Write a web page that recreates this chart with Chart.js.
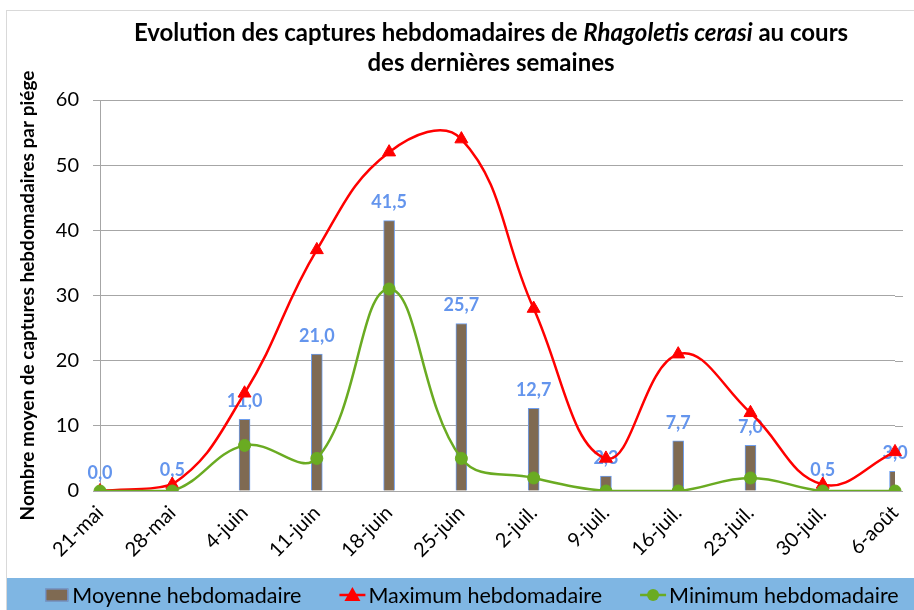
<!DOCTYPE html>
<html>
<head>
<meta charset="utf-8">
<script src="https://cdn.jsdelivr.net/npm/chart.js@4"></script>
<style>
  html, body { margin: 0; padding: 0; background: #ffffff; overflow: hidden; }
  #wrap { position: relative; width: 914px; height: 610px; }
</style>
</head>
<body>
<div id="wrap"><canvas id="c" width="914" height="610"></canvas></div>
<script>
const categories = ["21-mai", "28-mai", "4-juin", "11-juin", "18-juin", "25-juin", "2-juil.", "9-juil.", "16-juil.", "23-juil.", "30-juil.", "6-août"];
const moyenne = [0.0, 0.5, 11.0, 21.0, 41.5, 25.7, 12.7, 2.3, 7.7, 7.0, 0.5, 3.0];
const maximum = [0, 1, 15, 37, 52, 54, 28, 5, 21, 12, 1, 6];
const minimum = [0, 0, 7, 5, 31, 5, 2, 0, 0, 2, 0, 0];
const seriesNames = ["Moyenne hebdomadaire", "Maximum hebdomadaire", "Minimum hebdomadaire"];
const titleLine1 = ["Evolution des captures hebdomadaires de ", "Rhagoletis cerasi", " au cours"];
const titleLine2 = "des dernières semaines";
const yAxisTitle = "Nombre moyen de captures hebdomadaires par piége";

const FONT = "Lato, 'Open Sans', sans-serif";
const BAR_FILL = "#7F6A52";
const BAR_BORDER = "#6E9EEE";
const LABEL_BLUE = "#6495ED";
const RED = "#FF0000";
const GREEN = "#6AAB22";
const BAND = "#7FB6E3";

const framePlugin = {
  id: "frame",
  beforeDraw(chart) {
    const ctx = chart.ctx;
    ctx.save();
    ctx.fillStyle = "#ffffff";
    ctx.fillRect(0, 0, chart.width, chart.height);
    ctx.strokeStyle = "#D9D9D9";
    ctx.lineWidth = 1;
    ctx.strokeRect(6.5, 10.5, chart.width + 10, chart.height + 10);
    ctx.fillStyle = BAND;
    ctx.fillRect(7, 578, chart.width - 7, chart.height - 578);
    ctx.restore();
  },
  beforeDatasetsDraw(chart) {
    // extend the horizontal gridlines a little past the last category, as in the original
    const ctx = chart.ctx;
    const y = chart.scales.y;
    const right = chart.chartArea.right;
    ctx.save();
    ctx.strokeStyle = "#A6A6A6";
    ctx.lineWidth = 1;
    y.ticks.forEach(t => {
      const py = Math.round(y.getPixelForValue(t.value)) + 0.5;
      ctx.beginPath();
      ctx.moveTo(right, py);
      ctx.lineTo(right + 8, py);
      ctx.stroke();
    });
    ctx.restore();
  }
};

const titlePlugin = {
  id: "mixedTitle",
  afterDraw(chart) {
    const ctx = chart.ctx;
    ctx.save();
    ctx.fillStyle = "#000000";
    ctx.textBaseline = "middle";
    const fonts = ["bold 24px " + FONT, "italic bold 24px " + FONT, "bold 24px " + FONT];
    let widths = titleLine1.map((t, i) => { ctx.font = fonts[i]; return ctx.measureText(t).width; });
    let total = widths.reduce((a, b) => a + b, 0);
    const cx = 491;
    let x = cx - total / 2;
    ctx.textAlign = "left";
    titleLine1.forEach((t, i) => { ctx.font = fonts[i]; ctx.fillText(t, x, 33); x += widths[i]; });
    ctx.font = fonts[0];
    ctx.textAlign = "center";
    ctx.fillText(titleLine2, cx, 63);
    ctx.restore();
  }
};

const barLabelPlugin = {
  id: "barLabels",
  afterDatasetDraw(chart, args) {
    if (args.index !== 0) return;
    const ctx = chart.ctx;
    const meta = chart.getDatasetMeta(0);
    ctx.save();
    ctx.font = "bold 18px " + FONT;
    ctx.fillStyle = LABEL_BLUE;
    ctx.textAlign = "center";
    ctx.textBaseline = "middle";
    meta.data.forEach((el, i) => {
      const txt = moyenne[i].toFixed(1).replace(".", ",");
      ctx.fillText(txt, el.x, el.y - 18);
    });
    ctx.restore();
  }
};

const legendPlugin = {
  id: "customLegend",
  afterDraw(chart) {
    const ctx = chart.ctx;
    ctx.save();
    ctx.font = "21.5px " + FONT;
    ctx.textBaseline = "middle";
    ctx.textAlign = "left";
    const symW = 26, symGap = 3, itemGap = 38;
    const widths = seriesNames.map(t => symW + symGap + ctx.measureText(t).width);
    const total = widths.reduce((a, b) => a + b, 0) + itemGap * (seriesNames.length - 1);
    let x = 471 - total / 2;
    const y = 595;
    seriesNames.forEach((name, i) => {
      if (i === 0) {
        ctx.fillStyle = BAR_FILL;
        ctx.fillRect(x + 2, y - 6.5, 23, 13);
        ctx.strokeStyle = BAR_BORDER;
        ctx.lineWidth = 1;
        ctx.strokeRect(x + 2.5, y - 6, 22, 12);
      } else {
        const col = i === 1 ? RED : GREEN;
        ctx.strokeStyle = col;
        ctx.lineWidth = 2.5;
        ctx.beginPath();
        ctx.moveTo(x, y);
        ctx.lineTo(x + symW, y);
        ctx.stroke();
        ctx.fillStyle = col;
        ctx.beginPath();
        if (i === 1) {
          ctx.moveTo(x + 13, y - 8);
          ctx.lineTo(x + 21, y + 6);
          ctx.lineTo(x + 5, y + 6);
          ctx.closePath();
        } else {
          ctx.arc(x + 13, y, 6, 0, Math.PI * 2);
        }
        ctx.fill();
      }
      ctx.fillStyle = "#000000";
      ctx.fillText(name, x + symW + symGap, y + 1);
      x += widths[i] + itemGap;
    });
    ctx.restore();
  }
};

new Chart(document.getElementById("c"), {
  data: {
    labels: categories,
    datasets: [
      {
        type: "bar",
        label: seriesNames[0],
        data: moyenne,
        backgroundColor: BAR_FILL,
        borderColor: BAR_BORDER,
        borderWidth: 1,
        barThickness: 11,
        order: 2
      },
      {
        type: "line",
        label: seriesNames[1],
        data: maximum,
        borderColor: RED,
        backgroundColor: RED,
        borderWidth: 2.5,
        tension: 0.42,
        pointStyle: "triangle",
        pointRadius: 7.5,
        pointHoverRadius: 7.5,
        pointBorderWidth: 1,
        fill: false,
        order: 1
      },
      {
        type: "line",
        label: seriesNames[2],
        data: minimum,
        borderColor: GREEN,
        backgroundColor: GREEN,
        borderWidth: 2.5,
        tension: 0.4,
        pointStyle: "circle",
        pointRadius: 6,
        pointHoverRadius: 6,
        pointBorderWidth: 1,
        fill: false,
        order: 0
      }
    ]
  },
  options: {
    responsive: false,
    animation: false,
    events: [],
    layout: { padding: { left: 7, right: 17, top: 100, bottom: 32 } },
    plugins: {
      legend: { display: false },
      title: { display: false },
      tooltip: { enabled: false }
    },
    scales: {
      x: {
        type: "category",
        offset: false,
        grid: { display: false },
        border: { display: true, color: "#A6A6A6", width: 1 },
        ticks: {
          color: "#000000",
          font: { family: FONT, size: 20 },
          minRotation: 45,
          maxRotation: 45,
          autoSkip: false,
          padding: 2
        },
        afterFit(scale) { scale.height = 87; }
      },
      y: {
        min: 0,
        max: 60,
        ticks: {
          stepSize: 10,
          color: "#000000",
          font: { family: FONT, size: 20 },
          padding: 14
        },
        grid: { color: "#A6A6A6", lineWidth: 1, tickLength: 7, drawTicks: true },
        border: { display: true, color: "#A6A6A6", width: 1 },
        title: {
          display: true,
          text: yAxisTitle,
          color: "#000000",
          font: { family: FONT, size: 19, weight: "bold" },
          padding: { top: 9, bottom: 0 }
        },
        afterFit(scale) { scale.width = 93; }
      }
    }
  },
  plugins: [framePlugin, barLabelPlugin, titlePlugin, legendPlugin]
});
</script>
</body>
</html>
